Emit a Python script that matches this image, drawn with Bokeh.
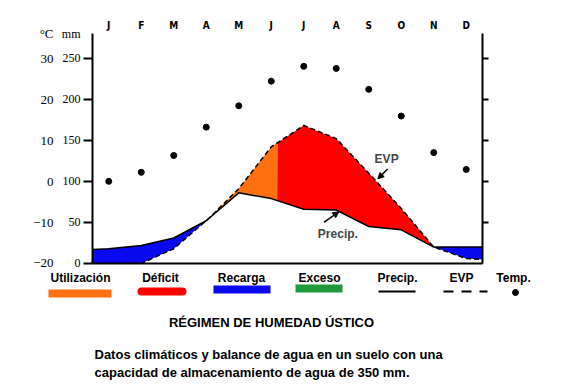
import numpy as np
from bokeh.plotting import figure
from bokeh.models import Range1d, LinearAxis, FixedTicker, Label, Arrow, NormalHead
from bokeh.embed import file_html
from bokeh.resources import INLINE
from bokeh.core.properties import value

# ---------------- data ----------------
month_labels = ["J", "F", "M", "A", "M", "J", "J", "A", "S", "O", "N", "D"]
month_pos = list(range(12))
temp_c = [0.0, 2.2, 6.3, 13.2, 18.4, 24.4, 28.0, 27.5, 22.4, 15.9, 7.0, 2.9]

bal_x = [-0.5, 0, 1, 2, 3, 4, 5, 6, 7, 8, 9, 10, 11, 11.5]
precip_mm = [17, 18, 22, 31, 52, 86, 79, 66, 65, 45, 41, 20, 20, 20]
evp_mm = [0, 0, 0, 18, 52, 91, 142, 168, 152, 110, 67, 20, 6, 5]
utilizacion_end = 5.2

mm_ticks = [0, 50, 100, 150, 200, 250]
c_ticks = [-20, -10, 0, 10, 20, 30]
mm_top, c_top = 280, 36          # axis tops, where the unit headers sit
mm_header, c_header = "mm", "°C"

legend_labels = ["Utilización", "Déficit", "Recarga", "Exceso", "Precip.", "EVP", "Temp."]
legend_colors = ["#FF7010", "#FF0000", "#0A0AF0", "#22993A"]
title_text = "RÉGIMEN DE HUMEDAD ÚSTICO"
caption_lines = ["Datos climáticos y balance de agua en un suelo con una",
                 "capacidad de almacenamiento de agua de 350 mm."]

FONT = "Liberation Sans"
NARROW = "Liberation Sans Narrow"
COND = "DejaVu Sans Condensed"

H1 = 269
# ---------------- chart ----------------
p = figure(width=562, height=H1, x_range=Range1d(-0.5, 11.5), y_range=Range1d(0, mm_top),
           output_backend="svg", toolbar_location=None, x_axis_location="above",
           min_border_left=92, min_border_right=80, min_border_top=33, min_border_bottom=6)
p.outline_line_color = None
p.grid.visible = False

xf = np.linspace(-0.5, 11.5, 1201)
Pf = np.interp(xf, bal_x, precip_mm)
Ef = np.interp(xf, bal_x, evp_mm)
lo = np.minimum(Pf, Ef)
hi = np.maximum(Pf, Ef)

p.varea(x=xf, y1=lo, y2=Pf, fill_color=legend_colors[2])
p.varea(x=xf, y1=Pf, y2=np.where(xf <= utilizacion_end + 1e-9, hi, Pf), fill_color=legend_colors[0])
p.varea(x=xf, y1=Pf, y2=np.where(xf >= utilizacion_end - 1e-9, hi, Pf), fill_color=legend_colors[1])

p.line(bal_x, precip_mm, line_color="black", line_width=1.5)
p.line(bal_x, evp_mm, line_color="black", line_width=1.5, line_dash="5 3")

p.extra_y_ranges = {"temp": Range1d(-20, c_top)}
p.scatter(month_pos, temp_c, y_range_name="temp", size=6, color="black")

# month axis on top
ax_top = p.above[0]
ax_top.ticker = FixedTicker(ticks=month_pos)
ax_top.major_label_overrides = {i: m for i, m in enumerate(month_labels)}
ax_top.axis_line_color = None
ax_top.major_tick_line_color = None
ax_top.major_tick_out = 0
ax_top.major_tick_in = 0
ax_top.minor_tick_line_color = None
ax_top.major_label_standoff = 3
ax_top.major_label_text_font = COND
ax_top.major_label_text_font_style = "bold"
ax_top.major_label_text_font_size = "10px"
ax_top.major_label_text_color = "black"

# mm axis: labels on major ticks (incl. header at top), tick marks drawn as minor ticks
ax_mm = p.left[0]
ax_mm.ticker = FixedTicker(ticks=mm_ticks + [mm_top], minor_ticks=mm_ticks)
ax_mm.major_label_overrides = {mm_top: mm_header}
ax_mm.axis_line_width = 2
ax_mm.major_tick_line_color = None
ax_mm.major_tick_out = 9
ax_mm.major_tick_in = 0
ax_mm.minor_tick_line_color = "black"
ax_mm.minor_tick_line_width = 2
ax_mm.minor_tick_out = 9
ax_mm.minor_tick_in = 0
ax_mm.major_label_standoff = 3
ax_mm.major_label_text_font = NARROW
ax_mm.major_label_text_font_size = "12px"
ax_mm.major_label_text_color = "black"

# degree axis
ax_c = LinearAxis(y_range_name="temp", ticker=FixedTicker(ticks=c_ticks + [c_top]))
ax_c.major_label_overrides = {c_top: c_header}
ax_c.axis_line_color = None
ax_c.major_tick_line_color = None
ax_c.major_tick_out = 0
ax_c.major_tick_in = 0
ax_c.minor_tick_line_color = None
ax_c.major_label_standoff = 5
ax_c.major_label_text_font = NARROW
ax_c.major_label_text_font_size = "13px"
ax_c.major_label_text_color = "black"
p.add_layout(ax_c, "left")

# right axis
ax_r = LinearAxis(ticker=FixedTicker(ticks=mm_ticks[1:]))
ax_r.axis_line_width = 2
ax_r.major_tick_line_width = 2
ax_r.major_tick_out = 6
ax_r.major_tick_in = 0
ax_r.minor_tick_line_color = None
ax_r.major_label_text_color = None
p.add_layout(ax_r, "right")

# baseline
ax_b = LinearAxis(ticker=FixedTicker(ticks=[]))
ax_b.axis_line_width = 2
ax_b.major_label_text_color = None
ax_b.major_tick_line_color = None
ax_b.major_tick_out = 0
ax_b.minor_tick_line_color = None
p.add_layout(ax_b, "below")

# annotations
p.add_layout(Label(x=8.55, y=127, text="EVP", text_align="center", text_baseline="middle",
                   text_font=FONT, text_font_style="bold", text_font_size="12px"))
p.add_layout(Arrow(x_start=8.58, y_start=115, x_end=8.28, y_end=103,
                   line_width=1.5, end=NormalHead(size=6, fill_color="black", line_color="black")))
p.add_layout(Label(x=7.05, y=36, text="Precip.", text_align="center", text_baseline="middle",
                   text_font=FONT, text_font_style="bold", text_font_size="12px"))
p.add_layout(Arrow(x_start=6.62, y_start=50, x_end=7.08, y_end=63,
                   line_width=1.5, end=NormalHead(size=6, fill_color="black", line_color="black")))

# ---------------- legend + caption ----------------
H2 = 391 - H1
p2 = figure(width=562, height=H2, x_range=Range1d(0, 562), y_range=Range1d(H2, 0),
            x_axis_type=None, y_axis_type=None, output_backend="svg",
            toolbar_location=None, min_border=0)
p2.outline_line_color = None
p2.grid.visible = False

label_x = [80, 160, 241, 319, 397, 461, 513]
p2.text(x=label_x, y=[8] * 7, text=legend_labels, text_font=value(FONT),
        text_font_style="bold", text_font_size="12px", text_align="center",
        text_baseline="middle", text_color="black")

p2.quad(left=[48], right=[111], top=[20], bottom=[28], fill_color=legend_colors[0], line_color=None)
p2.line([141, 182], [22, 22], line_color=legend_colors[1], line_width=8, line_cap="round")
p2.quad(left=[213], right=[270], top=[16], bottom=[24], fill_color=legend_colors[2], line_color=None)
p2.quad(left=[295], right=[342], top=[15], bottom=[23], fill_color=legend_colors[3], line_color=None)
p2.line([378, 415], [22, 22], line_color="black", line_width=2)
p2.line([443, 487], [22, 22], line_color="black", line_width=2, line_dash="10 8")
p2.scatter([515], [23], size=6, color="black")

p2.text(x=[271], y=[53], text=[title_text], text_font=value(FONT), text_font_style="bold",
        text_font_size="13px", text_align="center", text_baseline="middle", text_color="black")
p2.text(x=[94, 94], y=[85, 103], text=caption_lines, text_font=value(FONT), text_font_style="bold",
        text_font_size="13px", text_align="left", text_baseline="middle", text_color="black")

open("out.html", "w").write(file_html([p, p2], INLINE))
